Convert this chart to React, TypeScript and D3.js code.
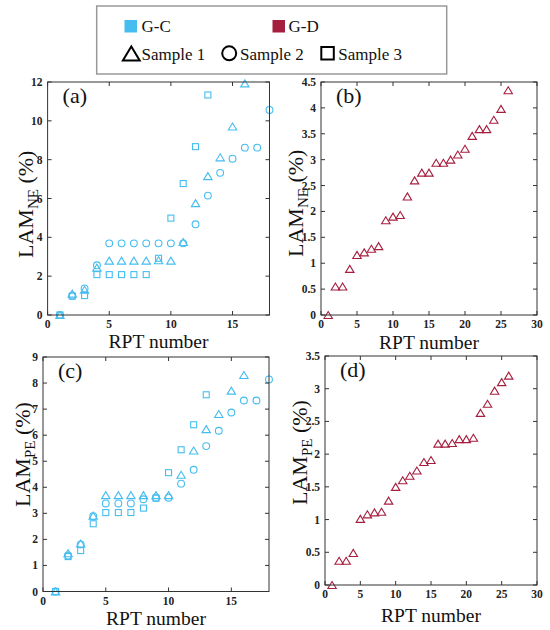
import React from "react";
import * as d3 from "d3";

const BLUE = "#45bdf0";
const RED = "#a61e3e";

const neGC_s1 = [0, 1.1, 1.3, 2.44, 2.8, 2.8, 2.8, 2.8, 2.82, 2.8, 3.76, 5.76, 7.15, 8.12, 9.71, 11.93];
const neGC_s2 = [0, 1.0, 1.37, 2.56, 3.69, 3.69, 3.69, 3.69, 3.69, 3.69, 3.69, 4.67, 6.15, 7.32, 8.05, 8.62, 8.62, 10.56];
const neGC_s3 = [0, 0.97, 1.0, 2.08, 2.08, 2.08, 2.08, 2.08, 2.92, 4.99, 6.77, 8.67, 11.33];

const neGD_s1 = [0, 0.55, 0.55, 0.89, 1.16, 1.21, 1.28, 1.33, 1.83, 1.9, 1.93, 2.29, 2.6, 2.75, 2.75, 2.94, 2.94, 3.0, 3.1, 3.21, 3.46, 3.59, 3.59, 3.77, 3.98, 4.34];

const peGC_s1 = [0, 1.47, 1.84, 2.91, 3.7, 3.7, 3.7, 3.7, 3.7, 3.7, 4.48, 5.41, 6.23, 6.81, 7.71, 8.31];
const peGC_s2 = [0, 1.38, 1.81, 2.89, 3.38, 3.38, 3.38, 3.54, 3.6, 3.6, 4.14, 4.67, 5.58, 6.17, 6.87, 7.33, 7.33, 8.14];
const peGC_s3 = [0, 1.34, 1.57, 2.6, 3.03, 3.03, 3.03, 3.2, 3.58, 4.56, 5.44, 6.4, 7.55];

const peGD_s1 = [0, 0.37, 0.37, 0.49, 1.01, 1.08, 1.11, 1.12, 1.29, 1.5, 1.6, 1.67, 1.75, 1.88, 1.91, 2.16, 2.16, 2.17, 2.23, 2.23, 2.25, 2.63, 2.77, 2.97, 3.1, 3.2];

const ticksC = [0, 5, 10, 15];
const ticksD = [0, 5, 10, 15, 20, 25, 30];
const yTicksA = [0, 2, 4, 6, 8, 10, 12];
const yTicksB = [0, 0.5, 1, 1.5, 2, 2.5, 3, 3.5, 4, 4.5];
const yTicksC = [0, 1, 2, 3, 4, 5, 6, 7, 8, 9];
const yTicksD = [0, 0.5, 1, 1.5, 2, 2.5, 3, 3.5];

const SERIF = "Liberation Serif, DejaVu Serif, serif";

type Series = { values: number[]; shape: "tri" | "circ" | "sq"; color: string };

function Marker({ shape, x, y, color, s = 1, sw = 1.1 }: any) {
  if (shape === "tri") {
    const w = 4.2 * s, h = 7 * s;
    const p = `M${x - w},${y + h / 2}L${x + w},${y + h / 2}L${x},${y - h / 2}Z`;
    return <path d={p} fill="none" stroke={color} strokeWidth={sw} strokeLinejoin="miter" />;
  }
  if (shape === "circ") return <circle cx={x} cy={y} r={3.4 * s} fill="none" stroke={color} strokeWidth={sw} />;
  const a = 3 * s;
  return <rect x={x - a} y={y - a} width={2 * a} height={2 * a} fill="none" stroke={color} strokeWidth={sw} />;
}

function Panel(props: {
  left: number; right: number; top: number; bottom: number;
  xMax: number; xTicks: number[]; yMax: number; yTicks: number[];
  series: Series[]; tag: string; sub: string;
  ylx: number; yly: number; xly: number;
}) {
  const { left, right, top, bottom, xMax, xTicks, yMax, yTicks, series, tag, sub, ylx, yly, xly } = props;
  const x = d3.scaleLinear().domain([0, xMax]).range([left, right]);
  const y = d3.scaleLinear().domain([0, yMax]).range([bottom, top]);
  const tl = 4;
  const axisColor = "#333";
  return (
    <g>
      {series.map((s, si) =>
        s.values.map((v, i) => (
          <Marker key={`${si}-${i}`} shape={s.shape} x={x(i + 1)} y={y(v)} color={s.color} />
        ))
      )}
      <rect x={left} y={top} width={right - left} height={bottom - top} fill="none" stroke={axisColor} strokeWidth={1} />
      {xTicks.map((t) => (
        <g key={"xt" + t}>
          <line x1={x(t)} x2={x(t)} y1={bottom} y2={bottom - tl} stroke={axisColor} />
          <line x1={x(t)} x2={x(t)} y1={top} y2={top + tl} stroke={axisColor} />
          <text x={x(t)} y={bottom + 13} textAnchor="middle" fontFamily={SERIF} fontWeight="bold" fontSize={11.5} fill="#222">{t}</text>
        </g>
      ))}
      {yTicks.map((t) => (
        <g key={"yt" + t}>
          <line x1={left} x2={left + tl} y1={y(t)} y2={y(t)} stroke={axisColor} />
          <line x1={right} x2={right - tl} y1={y(t)} y2={y(t)} stroke={axisColor} />
          <text x={left - 5} y={y(t) + 4} textAnchor="end" fontFamily={SERIF} fontWeight="bold" fontSize={11.5} fill="#222">{t}</text>
        </g>
      ))}
      <text x={left + 15} y={top + 21} fontFamily={SERIF} fontSize={22} fill="#111">{tag}</text>
      <text x={(left + right) / 2} y={xly} textAnchor="middle" fontFamily={SERIF} fontSize={19.5} fill="#111">RPT number</text>
      <text transform={`translate(${ylx},${yly}) rotate(-90)`} fontFamily={SERIF} fontSize={22} fill="#111">
        LAM<tspan fontSize={15} dy={5}>{sub}</tspan><tspan dy={-5}> (%)</tspan>
      </text>
    </g>
  );
}

export default function App() {
  return (
    <svg width={550} height={630} style={{ position: "absolute", left: 0, top: 0, background: "#fff" }}>
      <rect x={0} y={0} width={550} height={630} fill="#fff" />
      <rect x={96.7} y={6} width={350} height={68} fill="none" stroke="#999" strokeWidth={1.5} />
      <rect x={124.5} y={20} width={12.5} height={12.5} fill={BLUE} />
      <text x={141.5} y={32} fontFamily={SERIF} fontSize={17} fill="#111">G-C</text>
      <rect x={272.5} y={20} width={12.5} height={12.5} fill={RED} />
      <text x={288.5} y={32} fontFamily={SERIF} fontSize={17} fill="#111">G-D</text>
      <Marker shape="tri" x={131.3} y={53.5} color="#000" s={2} sw={2} />
      <text x={141.5} y={60} fontFamily={SERIF} fontSize={17} fill="#111">Sample 1</text>
      <circle cx={229.2} cy={53.3} r={7} fill="none" stroke="#000" strokeWidth={2} />
      <text x={240} y={60} fontFamily={SERIF} fontSize={17} fill="#111">Sample 2</text>
      <rect x={321.3} y={47} width={12.5} height={12.5} fill="none" stroke="#000" strokeWidth={2} />
      <text x={338.3} y={60} fontFamily={SERIF} fontSize={17} fill="#111">Sample 3</text>

      <Panel left={47.6} right={269.5} top={82} bottom={315} xMax={18} xTicks={ticksC} yMax={12} yTicks={yTicksA}
        series={[
          { values: neGC_s3, shape: "sq", color: BLUE },
          { values: neGC_s2, shape: "circ", color: BLUE },
          { values: neGC_s1, shape: "tri", color: BLUE },
        ]}
        tag="(a)" sub="NE" ylx={33} yly={258} xly={348} />
      <Panel left={321} right={537} top={82} bottom={315} xMax={30} xTicks={ticksD} yMax={4.5} yTicks={yTicksB}
        series={[{ values: neGD_s1, shape: "tri", color: RED }]}
        tag="(b)" sub="NE" ylx={303} yly={257} xly={349} />
      <Panel left={43} right={269} top={357} bottom={591.5} xMax={18} xTicks={ticksC} yMax={9} yTicks={yTicksC}
        series={[
          { values: peGC_s3, shape: "sq", color: BLUE },
          { values: peGC_s2, shape: "circ", color: BLUE },
          { values: peGC_s1, shape: "tri", color: BLUE },
        ]}
        tag="(c)" sub="PE" ylx={30} yly={507} xly={625} />
      <Panel left={325} right={537} top={356} bottom={585} xMax={30} xTicks={ticksD} yMax={3.5} yTicks={yTicksD}
        series={[{ values: peGD_s1, shape: "tri", color: RED }]}
        tag="(d)" sub="PE" ylx={307} yly={505} xly={622} />
    </svg>
  );
}
